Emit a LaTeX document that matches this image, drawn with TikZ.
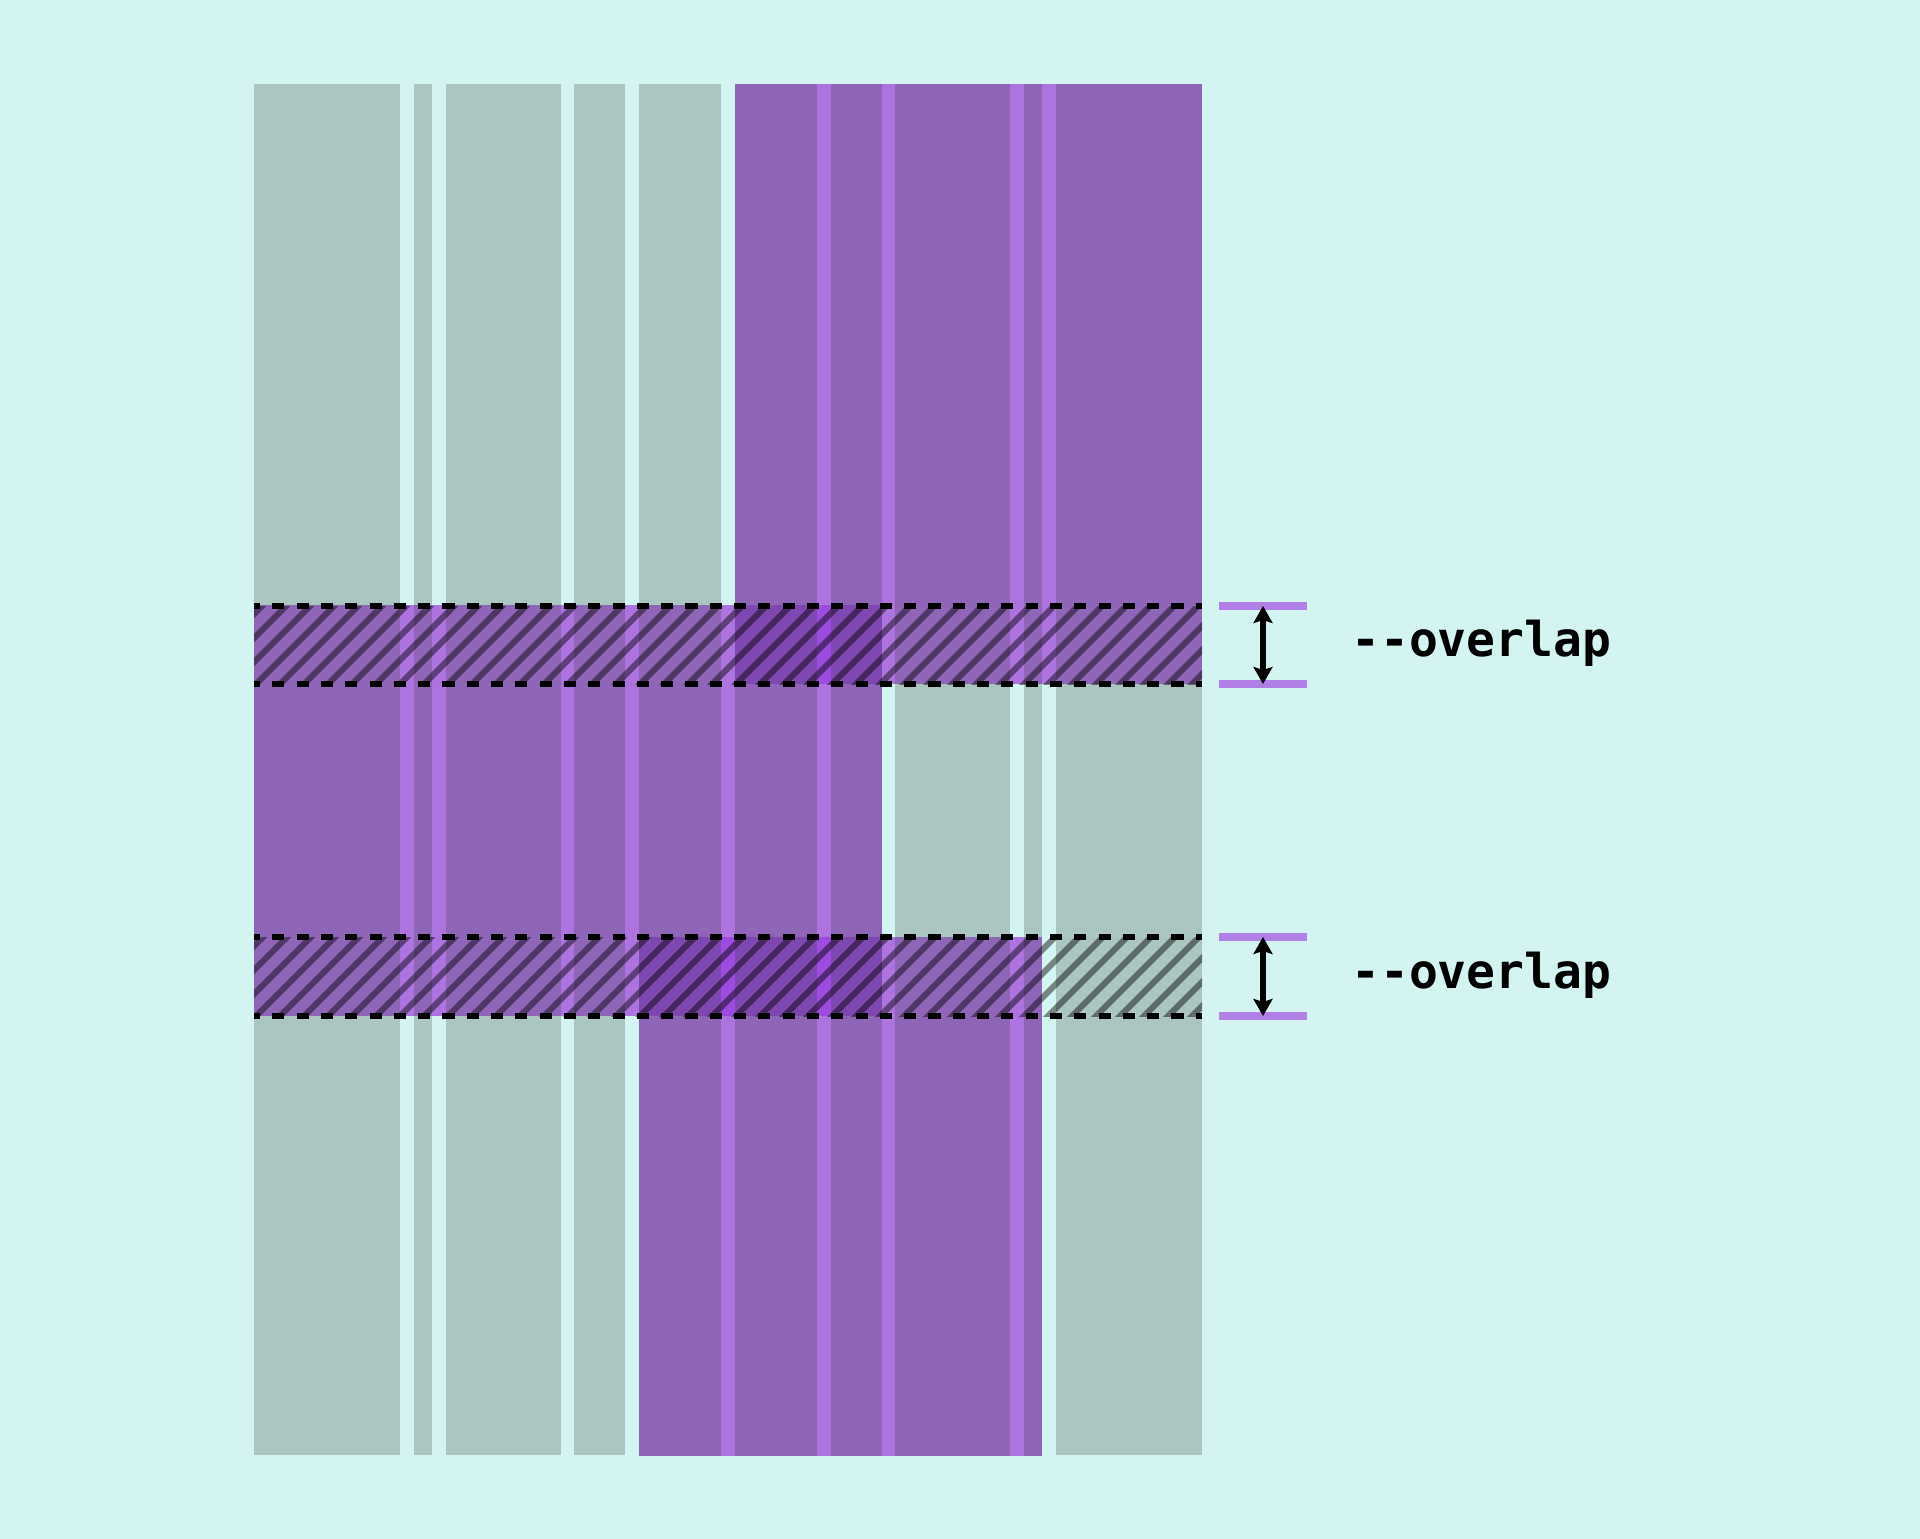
\documentclass[tikz,border=0pt]{standalone}
\usepackage{fontspec}
\newfontfamily\labelfont{DejaVu Sans Mono}
\usepackage{tikz}
\usetikzlibrary{arrows.meta}
\usetikzlibrary{positioning}
\usepackage{xcolor}
\definecolor{bgcyan}{HTML}{D4F4F1}
\definecolor{cellgrey}{HTML}{ABC5C1}
\definecolor{cellpurple}{HTML}{8F65B7}
\definecolor{gutterpurple}{HTML}{AD74E0}
\definecolor{overlappurple}{HTML}{7F47B0}
\definecolor{overlapgutter}{HTML}{9C4CDE}
\definecolor{barpurple}{HTML}{B180E6}
\tikzset{
  % arrow tips for the gauges
  >={Stealth[length=17pt,width=19pt,inset=3pt]},
  % cells of the grid
  greycell/.style={fill=cellgrey},
  purplecell/.style={fill=cellpurple},
  gutter/.style={fill=gutterpurple},
  % overlap bands
  hatchline/.style={draw=black, line width=6pt, draw opacity=0.45},
  bandline/.style={draw=black, line width=6.5pt, dash pattern=on 12.15pt off 12.15pt, dash phase=6pt},
  markbar/.style={draw=barpurple, line width=8pt},
  gauge/.style={draw, <->, line width=5.5pt},
  overlaptext/.style={font=\labelfont\bfseries\fontsize{48}{57}\selectfont, anchor=base west, inner sep=0pt}
}

\begin{document}
\begin{tikzpicture}[x=1pt,y=-1pt]
        % Background
        \fill[bgcyan] (0,0) rectangle (1920,1539);

        % Grey cells
        \foreach \xa/\xb in {254/400, 414/432, 446/561, 574/625, 639/721}
          \fill[greycell] (\xa,84) rectangle (\xb,605);
        \foreach \xa/\xb in {895/1010, 1024/1042, 1056/1202}
          \fill[greycell] (\xa,605) rectangle (\xb,1016);
        \foreach \xa/\xb in {254/400, 414/432, 446/561, 574/625, 1056/1202}
          \fill[greycell] (\xa,937) rectangle (\xb,1455);

        % Purple items spanning several cells
        \fill[gutter] (735,84) rectangle (1202,684);
        \foreach \xa/\xb in {735/817, 831/882, 895/1010, 1024/1042, 1056/1202}
          \fill[purplecell] (\xa,84) rectangle (\xb,684);
        \fill[gutter] (254,605) rectangle (882,1016);
        \foreach \xa/\xb in {254/400, 414/432, 446/561, 574/625, 639/721, 735/817, 831/882}
          \fill[purplecell] (\xa,605) rectangle (\xb,1016);
        \fill[gutter] (639,937) rectangle (1042,1456);
        \foreach \xa/\xb in {639/721, 735/817, 831/882, 895/1010, 1024/1042}
          \fill[purplecell] (\xa,937) rectangle (\xb,1456);

        % Where two items lie on each other
        \fill[overlapgutter] (735,605) rectangle (882,684);
        \foreach \xa/\xb in {735/817, 831/882}
          \fill[overlappurple] (\xa,605) rectangle (\xb,684);
        \fill[overlapgutter] (639,937) rectangle (882,1016);
        \foreach \xa/\xb in {639/721, 735/817, 831/882}
          \fill[overlappurple] (\xa,937) rectangle (\xb,1016);

        % Overlap bands and gauges
        \foreach \ya/\yb/\nm in {606/684/one, 937/1016/two} {
          \begin{scope}
            \clip (254,\ya) rectangle (1202,\yb);
            \foreach \k in {0,...,45}
              \draw[hatchline] (150+\k*24,\yb+10) -- ++(100,-100);
          \end{scope}
          \draw[bandline] (254,\ya) -- (1202,\ya);
          \draw[bandline] (254,\yb) -- (1202,\yb);
          \coordinate (top\nm) at (1263,\ya);
          \coordinate (bot\nm) at (1263,\yb);
          \draw[markbar] ([xshift=-44pt]top\nm) -- ([xshift=44pt]top\nm);
          \draw[markbar] ([xshift=-44pt]bot\nm) -- ([xshift=44pt]bot\nm);
          \path[gauge] (top\nm) -- (bot\nm);
          \node[overlaptext] (text\nm) at (1351,\yb-28) {-\kern0pt-overlap};
        }
\end{tikzpicture}
\end{document}
